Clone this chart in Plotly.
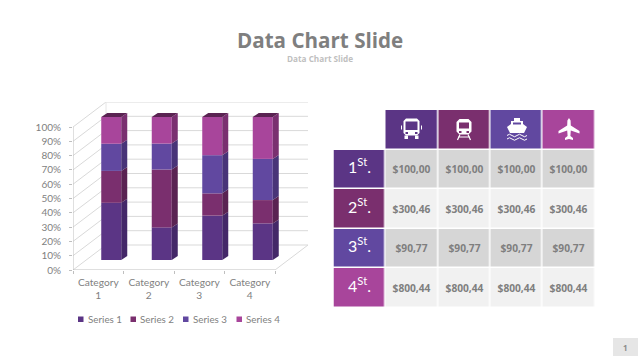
import plotly.graph_objects as go

categories = ["Category<br>1", "Category<br>2", "Category<br>3", "Category<br>4"]
series_names = ["Series 1", "Series 2", "Series 3", "Series 4"]
series_1 = [40.0, 22.8, 31.0, 25.6]
series_2 = [22.3, 40.5, 15.6, 16.3]
series_3 = [19.0, 18.1, 26.7, 28.8]
series_4 = [18.7, 18.6, 26.7, 29.3]
front_colors = ["#5B3585", "#7A2F6E", "#6148A0", "#A8459B"]
side_colors = ["#442868", "#5A2352", "#483478", "#7A3070"]
y_ticks = list(range(0, 101, 10))
y_labels = [f"{v}%" for v in y_ticks]

row_labels = ["1<sup>St</sup>.", "2<sup>St</sup>.", "3<sup>St</sup>.", "4<sup>St</sup>."]
row_prices = ["$100,00", "$300,46", "$90,77", "$800,44"]
band_colors = ["#D6D6D6", "#F1F1F1"]

GREY = "#7F7F7F"
W, H = 640, 360
L, R, T, B = 73, 308, 102, 270
PX_X = 50.5
PX_Y = 1.43
xmin = -0.5
xmax = xmin + (R - L) / PX_X
ymax = (B - T) / PX_Y
wall_dx, wall_dy = 33 / PX_X, 25 / PX_Y
bar_dx, bar_dy = 13 / PX_X, 10 / PX_Y
depth_dx, depth_dy = 6 / PX_X, 4 / PX_Y
bar_w = 20 / PX_X

def px(x):
    return x / W
def py(y):
    return 1 - y / H

fig = go.Figure()
series = [series_1, series_2, series_3, series_4]
n = len(categories)
xs = [i + bar_dx for i in range(n)]
cum = [bar_dy] * n

side_polys = []
for s, name in enumerate(series_names):
    vals = series[s]
    fig.add_trace(go.Bar(x=xs, y=vals, base=list(cum), width=bar_w, name=name,
                         marker=dict(color=front_colors[s], line=dict(width=0)),
                         showlegend=False, hoverinfo="skip"))
    px_side, py_side = [], []
    for i in range(n):
        xr = xs[i] + bar_w / 2
        b, t = cum[i], cum[i] + vals[i]
        px_side += [xr, xr + depth_dx, xr + depth_dx, xr, xr, None]
        py_side += [b, b + depth_dy, t + depth_dy, t, b, None]
        cum[i] = t
    side_polys.append((px_side, py_side, side_colors[s]))

for xv, yv, c in side_polys:
    fig.add_trace(go.Scatter(x=xv, y=yv, mode="lines", fill="toself", fillcolor=c,
                             line=dict(width=0, color=c), showlegend=False, hoverinfo="skip"))

tx, ty = [], []
for i in range(n):
    xl, xr = xs[i] - bar_w / 2, xs[i] + bar_w / 2
    t = cum[i]
    tx += [xl, xr, xr + depth_dx, xl + depth_dx, xl, None]
    ty += [t, t, t + depth_dy, t + depth_dy, t, None]
fig.add_trace(go.Scatter(x=tx, y=ty, mode="lines", fill="toself", fillcolor=side_colors[1],
                         line=dict(width=0, color=side_colors[1]), showlegend=False, hoverinfo="skip"))

shapes = []
FRAME = "#D9D9D9"
def seg(x0, y0, x1, y1, color=FRAME, w=1):
    shapes.append(dict(type="line", xref="x", yref="y", x0=x0, y0=y0, x1=x1, y1=y1,
                       line=dict(color=color, width=w), layer="below"))

for v in y_ticks:
    seg(xmin, v, xmin + wall_dx, v + wall_dy)
    seg(xmin + wall_dx, v + wall_dy, xmax, v + wall_dy)
seg(xmin, 0, xmin, 100, "#BFBFBF")
seg(xmin, 0, 3.5, 0, "#BFBFBF")
seg(3.5, 0, 3.5 + wall_dx, wall_dy)
seg(xmin + wall_dx, wall_dy, xmin + wall_dx, 100 + wall_dy, "#E6E6E6")

def to_paper_path(cmds):
    out = []
    for c in cmds:
        if c[0] == "Z":
            out.append("Z")
        else:
            pts = c[1]
            out.append(c[0] + " ".join(f"{px(a):.5f},{py(b):.5f}" for a, b in pts))
    return " ".join(out)

def poly(cx, cy, pts):
    return [("M", [(cx + pts[0][0], cy + pts[0][1])])] + \
           [("L", [(cx + a, cy + b)]) for a, b in pts[1:]] + [("Z",)]

def rect(cx, cy, x0, y0, x1, y1, r=0):
    if r == 0:
        return poly(cx, cy, [(x0, y0), (x1, y0), (x1, y1), (x0, y1)])
    return poly(cx, cy, [(x0 + r, y0), (x1 - r, y0), (x1, y0 + r), (x1, y1 - r),
                         (x1 - r, y1), (x0 + r, y1), (x0, y1 - r), (x0, y0 + r)])

def icon(cmds):
    shapes.append(dict(type="path", xref="paper", yref="paper", path=to_paper_path(cmds),
                       fillcolor="white", line=dict(width=0), layer="above"))

def stroke(cmds, w=1):
    shapes.append(dict(type="path", xref="paper", yref="paper", path=to_paper_path(cmds),
                       fillcolor="rgba(0,0,0,0)", line=dict(color="white", width=w), layer="above"))

ICON_Y = 129
c = 411.5
icon(rect(c, ICON_Y, -8, -10.5, 8, 6.5, 2.5) + rect(c, ICON_Y, -6, -7.5, 6, 1) +
     rect(c, ICON_Y, -6, 3, -3.5, 5) + rect(c, ICON_Y, 3.5, 3, 6, 5))
icon(rect(c, ICON_Y, -7, 6.5, -3.5, 10) + rect(c, ICON_Y, 3.5, 6.5, 7, 10))
icon(rect(c, ICON_Y, -10.5, -3.5, -9.5, 0.5) + rect(c, ICON_Y, 9.5, -3.5, 10.5, 0.5))
c = 464
icon(rect(c, ICON_Y, -7.5, -10, 7.5, 5.5, 3) + rect(c, ICON_Y, -5, -6.5, 5, -0.5) +
     rect(c, ICON_Y, -5, 2, -2.5, 4) + rect(c, ICON_Y, 2.5, 2, 5, 4))
stroke([("M", [(c - 4, ICON_Y + 5.5)]), ("L", [(c - 6.5, ICON_Y + 11)]),
        ("M", [(c + 4, ICON_Y + 5.5)]), ("L", [(c + 6.5, ICON_Y + 11)]),
        ("M", [(c - 6, ICON_Y + 8)]), ("L", [(c + 6, ICON_Y + 8)])], 1.2)
c = 517
icon(poly(c, ICON_Y - 2, [(-10, 0), (-6, -3), (-6, -6), (-3, -6), (-3, -9), (3, -9),
                          (3, -6), (6, -6), (6, -3), (10, 0), (7, 6), (-7, 6)]) +
     rect(c, ICON_Y - 2, -4, -4.5, 4, -2.5))
for dy in (6.5, 10):
    stroke([("M", [(c - 10, ICON_Y + dy)]),
            ("Q", [(c - 7.5, ICON_Y + dy - 2.5), (c - 5, ICON_Y + dy)]),
            ("Q", [(c - 2.5, ICON_Y + dy + 2.5), (c, ICON_Y + dy)]),
            ("Q", [(c + 2.5, ICON_Y + dy - 2.5), (c + 5, ICON_Y + dy)]),
            ("Q", [(c + 7.5, ICON_Y + dy + 2.5), (c + 10, ICON_Y + dy)])], 1)
c = 569
icon(poly(c, ICON_Y, [(0, -11), (1.6, -8.5), (1.8, -3.5), (10.5, 2), (10.5, 4.5), (1.8, 1.5),
                      (1.4, 7), (4, 9), (4, 11), (0, 10), (-4, 11), (-4, 9), (-1.4, 7),
                      (-1.8, 1.5), (-10.5, 4.5), (-10.5, 2), (-1.8, -3.5), (-1.6, -8.5)]))

shapes.append(dict(type="rect", xref="paper", yref="paper", x0=px(613), x1=px(638),
                   y0=py(356), y1=py(338), fillcolor="#E6E6E6", line=dict(width=0), layer="below"))

annotations = [
    dict(text="<b>Data Chart Slide</b>", x=px(320), y=py(40), xref="paper", yref="paper",
         showarrow=False, xanchor="center", yanchor="middle",
         font=dict(family="Open Sans", size=20.6, color=GREY)),
    dict(text="<b>Data Chart Slide</b>", x=px(320), y=py(58.5), xref="paper", yref="paper",
         showarrow=False, xanchor="center", yanchor="middle",
         font=dict(family="Open Sans", size=8.2, color="#BFBFBF")),
    dict(text="<b>1</b>", x=px(625.5), y=py(347), xref="paper", yref="paper",
         showarrow=False, xanchor="center", yanchor="middle",
         font=dict(family="Open Sans", size=8, color="#8C8C8C")),
]
legend_x = [78, 130.5, 183, 236.5]
for name, col, lx in zip(series_names, front_colors, legend_x):
    shapes.append(dict(type="rect", xref="paper", yref="paper", x0=px(lx), x1=px(lx + 5.5),
                       y0=py(322), y1=py(316.5), fillcolor=col, line=dict(width=0)))
    annotations.append(dict(text=name, x=px(lx + 7.5), y=py(319), xref="paper", yref="paper",
                            showarrow=False, xanchor="left", yanchor="middle",
                            font=dict(family="Lato", size=9.8, color=GREY)))

# table as a categorical grid: colour index per cell, text per cell
nrows = len(row_labels)
z = [[None, 0, 1, 2, 3]]
text = [["", "", "", "", ""]]
for r in range(nrows):
    z.append([r, 4 + r % 2, 4 + r % 2, 4 + r % 2, 4 + r % 2])
    label = f'<span style="font-family:Lato;font-size:16px;font-weight:normal;fill:white">{row_labels[r]}</span>'
    price = f"<b>{row_prices[r]}</b>"
    text.append([label, price, price, price, price])

palette = front_colors + band_colors
scale = []
for i, col in enumerate(palette):
    scale += [[i / len(palette), col], [(i + 1) / len(palette), col]]

fig.add_trace(go.Heatmap(
    z=z, text=text, texttemplate="%{text}", xaxis="x2", yaxis="y2",
    x=list(range(5)), y=list(range(nrows + 1)),
    zmin=0, zmax=len(palette), colorscale=scale, showscale=False,
    xgap=1.5, ygap=1.5, hoverinfo="skip",
    textfont=dict(family="Open Sans", size=10.2, color=GREY)))

fig.update_layout(
    width=W, height=H, autosize=False,
    margin=dict(l=0, r=0, t=0, b=0),
    paper_bgcolor="white", plot_bgcolor="white",
    barmode="overlay", showlegend=False,
    xaxis=dict(domain=[px(L), px(R)], range=[xmin, xmax], type="linear",
               tickvals=list(range(n)), ticktext=categories, ticks="", showgrid=False,
               zeroline=False, showline=False, tickangle=0, automargin=False,
               ticklabelstandoff=5,
               tickfont=dict(family="Lato", size=10.2, color=GREY),
               minor=dict(tickvals=[i - 0.5 for i in range(n + 1)], ticks="outside", ticklen=3,
                          tickcolor="#BFBFBF", tickwidth=1, showgrid=False)),
    yaxis=dict(domain=[py(B), py(T)], range=[0, ymax], type="linear",
               tickvals=y_ticks, ticktext=y_labels, ticks="outside", ticklen=3,
               tickcolor="#BFBFBF", showgrid=False, zeroline=False, showline=False,
               ticklabelstandoff=6, automargin=False,
               tickfont=dict(family="Lato", size=10, color=GREY)),
    xaxis2=dict(domain=[px(333.5), px(595)], range=[-0.5, 4.5], visible=False, anchor="y2"),
    yaxis2=dict(domain=[py(307.5), py(110)], range=[nrows + 0.5, -0.5], visible=False, anchor="x2"),
    shapes=shapes, annotations=annotations,
)
fig.write_html("out.html", config=dict(displayModeBar=False),
               post_script="document.body.style.margin='0';")
